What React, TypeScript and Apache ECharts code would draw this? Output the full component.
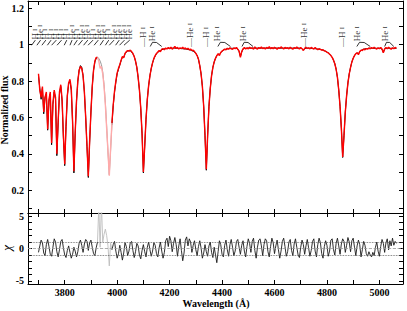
import React, { useEffect, useRef } from "react";
import * as echarts from "echarts";

// ---- data ----
const WL_START = 3700;
const WL_STEP = 5;
const MASK_FROM = 3925;
const MASK_TO = 3980;

// observed normalized flux (red), 3700..5065 Å step 5
const observedFlux = [
  0.84, 0.75, 0.71, 0.77, 0.63, 0.71, 0.74, 0.535, 0.70, 0.74,
  0.46, 0.68, 0.75, 0.71, 0.40, 0.58, 0.74, 0.78, 0.70, 0.50,
  0.343, 0.56, 0.72, 0.79, 0.81, 0.76, 0.58, 0.304, 0.52, 0.69,
  0.80, 0.86, 0.88, 0.87, 0.83, 0.74, 0.60, 0.44, 0.277, 0.47,
  0.63, 0.77, 0.86, 0.91, 0.93, 0.93, 0.91, 0.87, 0.88, 0.84,
  0.77, 0.67, 0.54, 0.41, 0.28, 0.43, 0.57, 0.67, 0.745, 0.80,
  0.845, 0.87, 0.89, 0.915, 0.935, 0.928, 0.952, 0.962, 0.968, 0.964,
  0.97, 0.962, 0.952, 0.935, 0.91, 0.875, 0.82, 0.75, 0.65, 0.51,
  0.30, 0.44, 0.59, 0.70, 0.775, 0.83, 0.87, 0.90, 0.925, 0.94,
  0.952, 0.96, 0.968, 0.962, 0.975, 0.978, 0.972, 0.982, 0.976, 0.984,
  0.978, 0.986, 0.975, 0.982, 0.99, 0.979, 0.985, 0.976, 0.983, 0.979,
  0.986, 0.977, 0.982, 0.975, 0.98, 0.972, 0.976, 0.968, 0.97, 0.962,
  0.952, 0.94, 0.92, 0.885, 0.84, 0.77, 0.66, 0.50, 0.315, 0.50,
  0.66, 0.76, 0.83, 0.875, 0.905, 0.925, 0.94, 0.95, 0.94, 0.957,
  0.965, 0.97, 0.976, 0.972, 0.98, 0.975, 0.983, 0.977, 0.974, 0.982,
  0.978, 0.985, 0.974, 0.965, 0.93, 0.962, 0.978, 0.984, 0.976, 0.982,
  0.977, 0.986, 0.979, 0.983, 0.975, 0.988, 0.98, 0.976, 0.984, 0.979,
  0.987, 0.978, 0.983, 0.976, 0.985, 0.98, 0.989, 0.977, 0.984, 0.978,
  0.986, 0.981, 0.975, 0.984, 0.979, 0.988, 0.982, 0.976, 0.985, 0.98,
  0.983, 0.977, 0.986, 0.98, 0.975, 0.984, 0.979, 0.987, 0.981, 0.976,
  0.984, 0.978, 0.968, 0.98, 0.986, 0.979, 0.983, 0.977, 0.985, 0.98,
  0.976, 0.984, 0.978, 0.972, 0.978, 0.974, 0.97, 0.972, 0.966, 0.964,
  0.958, 0.955, 0.948, 0.94, 0.93, 0.915, 0.895, 0.865, 0.82, 0.75,
  0.66, 0.54, 0.383, 0.50, 0.63, 0.72, 0.79, 0.84, 0.875, 0.905,
  0.925, 0.94, 0.95, 0.956, 0.945, 0.962, 0.97, 0.968, 0.976, 0.972,
  0.979, 0.975, 0.982, 0.977, 0.984, 0.979, 0.986, 0.98, 0.976, 0.983,
  0.978, 0.985, 0.976, 0.955, 0.978, 0.984, 0.977, 0.986, 0.98, 0.975,
  0.983, 0.978, 0.985, 0.98,
];

// model flux (black), same grid
const modelFlux = [
  0.83, 0.76, 0.70, 0.76, 0.62, 0.71, 0.73, 0.53, 0.69, 0.73,
  0.45, 0.67, 0.74, 0.70, 0.39, 0.57, 0.73, 0.77, 0.69, 0.49,
  0.335, 0.55, 0.72, 0.785, 0.80, 0.75, 0.57, 0.295, 0.51, 0.69,
  0.80, 0.86, 0.885, 0.875, 0.83, 0.74, 0.60, 0.44, 0.27, 0.46,
  0.63, 0.77, 0.86, 0.905, 0.925, 0.93, 0.925, 0.91, 0.89, 0.85,
  0.78, 0.68, 0.55, 0.41, 0.285, 0.42, 0.56, 0.665, 0.74, 0.795,
  0.84, 0.865, 0.888, 0.912, 0.932, 0.93, 0.95, 0.96, 0.965, 0.967,
  0.966, 0.96, 0.95, 0.935, 0.91, 0.875, 0.82, 0.75, 0.65, 0.51,
  0.295, 0.44, 0.59, 0.70, 0.775, 0.83, 0.87, 0.90, 0.922, 0.938,
  0.95, 0.958, 0.964, 0.968, 0.972, 0.975, 0.977, 0.978, 0.979, 0.98,
  0.98, 0.981, 0.981, 0.981, 0.981, 0.98, 0.98, 0.979, 0.979, 0.978,
  0.978, 0.977, 0.976, 0.975, 0.974, 0.972, 0.97, 0.967, 0.964, 0.96,
  0.952, 0.94, 0.92, 0.885, 0.84, 0.77, 0.66, 0.50, 0.31, 0.50,
  0.66, 0.76, 0.83, 0.875, 0.905, 0.925, 0.94, 0.948, 0.945, 0.956,
  0.964, 0.969, 0.973, 0.975, 0.977, 0.978, 0.979, 0.98, 0.98, 0.98,
  0.98, 0.98, 0.976, 0.962, 0.935, 0.96, 0.976, 0.98, 0.98, 0.981,
  0.981, 0.981, 0.981, 0.981, 0.981, 0.981, 0.981, 0.981, 0.981, 0.981,
  0.981, 0.981, 0.981, 0.981, 0.981, 0.981, 0.981, 0.981, 0.981, 0.981,
  0.981, 0.981, 0.981, 0.981, 0.981, 0.981, 0.981, 0.981, 0.981, 0.981,
  0.981, 0.981, 0.981, 0.981, 0.981, 0.981, 0.981, 0.981, 0.981, 0.981,
  0.981, 0.978, 0.97, 0.978, 0.981, 0.981, 0.981, 0.98, 0.98, 0.98,
  0.979, 0.978, 0.977, 0.976, 0.975, 0.974, 0.972, 0.97, 0.967, 0.964,
  0.96, 0.955, 0.948, 0.94, 0.93, 0.915, 0.895, 0.865, 0.82, 0.75,
  0.66, 0.54, 0.38, 0.50, 0.63, 0.72, 0.79, 0.84, 0.875, 0.905,
  0.925, 0.94, 0.95, 0.955, 0.948, 0.962, 0.968, 0.972, 0.975, 0.977,
  0.978, 0.979, 0.98, 0.98, 0.98, 0.98, 0.98, 0.98, 0.98, 0.98,
  0.98, 0.98, 0.975, 0.958, 0.975, 0.98, 0.98, 0.98, 0.98, 0.98,
  0.98, 0.98, 0.98, 0.98,
];

// residuals chi, same grid
const chiValues = [
  -0.6, 0.4, 1.3, 0.9, -0.7, -1.1, 0.6, 1.4, 0.3, -0.9,
  -1.2, 0.2, 1.5, 1.0, -0.5, -1.3, -0.2, 1.1, 1.4, 0.1,
  -1.0, -1.4, -0.3, 0.4, -0.6, -1.5, -0.9, 0.2, -0.4, -1.3,
  -0.5, 0.8, 1.3, 0.5, -0.6, 0.7, 1.4, 1.1, -0.3, 0.9,
  1.3, 0.2, -0.8, -1.1, 0.1, 1.0, 6.5, 0.2, 7.0, 1.0,
  2.2, 3.0, 2.0, 0.4, -2.7, 0.8, -0.2, 0.6, 1.1, -0.4,
  -1.5, -0.8, 0.5, -0.6, -1.8, -0.7, 0.9, 0.3, -1.1, -0.4,
  0.9, 1.1, -0.3, -1.4, -0.5, 0.8, 0.4, -1.0, -1.6, -0.3,
  0.6, -0.5, -1.3, 0.2, 1.0, -0.2, -1.2, -0.4, 0.9, 0.5,
  -0.8, -1.3, 0.1, 1.0, -0.4, -1.5, -0.6, 1.2, 1.6, 0.3,
  1.9, 1.2, -0.5, 0.8, 1.7, 0.6, -1.2, 0.4, 1.5, -0.3,
  -1.9, -0.7, 1.3, 1.8, 0.4, 1.5, 1.0, -0.6, 0.5, 1.2,
  -0.2, -1.1, 0.3, 1.2, 0.1, -1.5, -0.7, 0.6, -0.5, -1.2,
  0.4, 1.0, -0.6, -1.4, 0.2, -1.0, -2.2, -0.5, 1.2, 0.6,
  -0.9, -1.3, 0.5, 1.3, -0.2, -1.2, 0.6, 1.4, 0.2, -1.1,
  -0.4, 1.1, 1.4, 0.2, -0.9, 0.5, 1.2, -0.4, -1.3, 0.3,
  1.5, 0.8, -0.6, 1.1, 1.6, -0.3, -1.5, 0.2, 1.3, 1.5,
  0.4, -1.1, 0.6, 1.5, 1.2, -0.5, -1.3, 0.3, 1.6, 0.9,
  -0.8, 0.4, 1.3, -0.2, -1.5, -0.4, 1.1, 1.6, 0.3, -1.2,
  -0.5, 1.0, 1.4, -0.3, -1.1, 0.7, 1.5, 0.2, -1.0, -1.4,
  0.2, 1.3, 0.6, -0.9, 0.4, 1.4, 0.1, -1.2, -0.3, 1.1,
  1.5, -0.4, -1.3, 0.6, 1.6, 0.9, -0.8, -1.5, 0.3, 1.2,
  0.5, -1.2, -0.4, 1.3, 1.5, -0.2, -1.0, 0.8, 1.6, 0.4,
  -0.9, 0.7, 1.5, 1.1, -0.6, 0.5, 1.7, 1.0, -0.5, 1.2,
  1.6, 0.2, -1.1, 0.4, 1.3, 0.6, -1.3, -0.2, 1.1, 0.5,
  -0.8, -1.2, -0.5, -1.0, -1.3, -0.6, -1.1, 0.2, 1.0, -0.4,
  -1.2, 0.3, 1.4, 0.8, -0.6, 0.9, 1.5, -0.2, 1.2, 0.4,
  1.6, 0.5, 1.1, 0.8,
];

// axis ticks / labels
const X_MIN = 3660;
const X_MAX = 5090;
const xTickValues = [3700, 3800, 3900, 4000, 4100, 4200, 4300, 4400, 4500, 4600, 4700, 4800, 4900, 5000];
const xTickLabels = [3800, 4000, 4200, 4400, 4600, 4800, 5000];
const fluxTickValues = [0.1, 0.2, 0.3, 0.4, 0.5, 0.6, 0.7, 0.8, 0.9, 1, 1.1, 1.2];
const fluxTickLabels = [0.2, 0.4, 0.6, 0.8, 1, 1.2];
const chiTickValues = [-5, -4, -3, -2, -1, 0, 1, 2, 3, 4, 5];
const chiTickLabels = [-5, 0, 5];

// axis titles
const X_TITLE = "Wavelength (Å)";
const FLUX_TITLE = "Normalized flux";
const CHI_TITLE = "χ";

// line identifications
const dashLabels = [
  { ion: "H", wl: 4102 },
  { ion: "He", wl: 4281 },
  { ion: "H", wl: 4340 },
  { ion: "He", wl: 4713 },
  { ion: "H", wl: 4861 },
];
const bracketLabels = [
  { ion: "He", at: 4134, from: 4126, to: 4170 },
  { ion: "He", at: 4384, from: 4384, to: 4432 },
  { ion: "He", at: 4480, from: 4476, to: 4518 },
  { ion: "He", at: 4917, from: 4914, to: 4965 },
  { ion: "He", at: 5023, from: 5020, to: 5055 },
];
const clusterLabels = [
  { ion: "H", at: 3688, wl: 3674 },
  { ion: "He", at: 3708, wl: 3694 },
  { ion: "H", at: 3728, wl: 3713 },
  { ion: "H", at: 3748, wl: 3734 },
  { ion: "H", at: 3768, wl: 3750 },
  { ion: "H", at: 3788, wl: 3771 },
  { ion: "H", at: 3808, wl: 3798 },
  { ion: "He", at: 3828, wl: 3820 },
  { ion: "H", at: 3848, wl: 3835 },
  { ion: "He", at: 3868, wl: 3852 },
  { ion: "He", at: 3888, wl: 3872 },
  { ion: "H", at: 3908, wl: 3889 },
  { ion: "He", at: 3928, wl: 3912 },
  { ion: "He", at: 3948, wl: 3935 },
  { ion: "H", at: 3968, wl: 3955 },
  { ion: "He", at: 3988, wl: 3970 },
  { ion: "He", at: 4008, wl: 3994 },
  { ion: "He", at: 4028, wl: 4009 },
  { ion: "He", at: 4048, wl: 4026 },
];

// ---- helpers ----
const FONT = "'Liberation Serif', 'Times New Roman', serif";

function toPairs(values: number[]) {
  return values.map((v, i) => [WL_START + i * WL_STEP, v]);
}
function split(values: number[]) {
  const pairs = toPairs(values);
  return {
    a: pairs.filter((p) => p[0] <= MASK_FROM),
    m: pairs.filter((p) => p[0] >= MASK_FROM && p[0] <= MASK_TO),
    b: pairs.filter((p) => p[0] >= MASK_TO),
  };
}

const plain = (v: number) => String(v);

function xAxis(gridIndex: number, position: "top" | "bottom", labels: boolean) {
  return {
    type: "value",
    gridIndex,
    position,
    min: X_MIN,
    max: X_MAX,
    axisLine: { show: true, onZero: false, lineStyle: { color: "#000", width: 1 } },
    axisTick: { show: true, inside: true, length: 4, customValues: xTickValues, lineStyle: { color: "#000" } },
    axisLabel: {
      show: labels,
      customValues: xTickLabels,
      formatter: plain,
      fontFamily: FONT,
      fontWeight: "bold",
      fontSize: 10,
      color: "#000",
      margin: 3,
    },
    splitLine: { show: false },
  };
}

function yAxis(
  gridIndex: number,
  position: "left" | "right",
  min: number,
  max: number,
  ticks: number[],
  labels: number[] | null
) {
  return {
    type: "value",
    gridIndex,
    position,
    min,
    max,
    axisLine: { show: true, onZero: false, lineStyle: { color: "#000", width: 1 } },
    axisTick: { show: true, inside: true, length: 4, customValues: ticks, lineStyle: { color: "#000" } },
    axisLabel: {
      show: !!labels,
      customValues: labels || [],
      formatter: plain,
      fontFamily: FONT,
      fontWeight: "bold",
      fontSize: 10,
      color: "#000",
      margin: 4,
    },
    splitLine: { show: false },
  };
}

function lineSeries(data: number[][], color: string, width: number, xi: number, yi: number, z: number, extra?: any) {
  return {
    type: "line",
    data,
    xAxisIndex: xi,
    yAxisIndex: yi,
    symbol: "none",
    showSymbol: false,
    silent: true,
    z,
    lineStyle: { color, width },
    ...(extra || {}),
  };
}

function labelText(ion: string, dash: boolean) {
  return (dash ? "{d|—}" : "") + "{t|" + ion + " }{s|I}";
}

function buildOption() {
  const obs = split(observedFlux);
  const mod = split(modelFlux);
  const chi = split(chiValues);

  const labelData: any[] = [];
  dashLabels.forEach((l) => labelData.push({ value: [l.wl, 0.985], name: labelText(l.ion, true) }));
  bracketLabels.forEach((l) => labelData.push({ value: [l.at, 1.016], name: labelText(l.ion, false) }));
  clusterLabels.forEach((l) => labelData.push({ value: [l.at, 1.025], name: labelText(l.ion, false) }));

  const connectorData: any[] = [];
  clusterLabels.forEach((l) => connectorData.push({ coords: [[l.at, 1.025], [l.wl, 0.997]] }));
  bracketLabels.forEach((b) =>
    connectorData.push({
      coords: [
        [b.from, 0.99],
        [b.from + (b.to - b.from) * 0.2, 1.013],
        [b.from + (b.to - b.from) * 0.55, 1.012],
        [b.to, 0.99],
      ],
    })
  );

  return {
    animation: false,
    backgroundColor: "#fff",
    textStyle: { fontFamily: FONT },
    grid: [
      { left: 28, right: 4, top: 1, height: 212, outerBoundsMode: "none", containLabel: false },
      { left: 28, right: 4, top: 213, height: 71, outerBoundsMode: "none", containLabel: false },
    ],
    graphic: [
      {
        type: "text",
        x: 4.5,
        y: 110,
        rotation: Math.PI / 2,
        silent: true,
        style: {
          text: FLUX_TITLE,
          fontFamily: FONT,
          fontWeight: "bold",
          fontSize: 10,
          fill: "#000",
          align: "center",
          verticalAlign: "middle",
        },
      },
      {
        type: "text",
        x: 6,
        y: 248,
        rotation: Math.PI / 2,
        silent: true,
        style: {
          text: CHI_TITLE,
          fontFamily: FONT,
          fontStyle: "italic",
          fontSize: 13,
          fill: "#000",
          align: "center",
          verticalAlign: "middle",
        },
      },
      {
        type: "text",
        x: 216,
        y: 303,
        silent: true,
        style: {
          text: X_TITLE,
          fontFamily: FONT,
          fontWeight: "bold",
          fontSize: 10,
          fill: "#000",
          align: "center",
          verticalAlign: "middle",
        },
      },
    ],
    xAxis: [
      xAxis(0, "bottom", false),
      xAxis(0, "top", false),
      xAxis(1, "bottom", true),
      xAxis(1, "top", false),
    ],
    yAxis: [
      yAxis(0, "left", 0.075, 1.24, fluxTickValues, fluxTickLabels),
      yAxis(0, "right", 0.075, 1.24, fluxTickValues, null),
      yAxis(1, "left", -5.5, 5.5, chiTickValues, chiTickLabels),
      yAxis(1, "right", -5.5, 5.5, chiTickValues, null),
    ],
    series: [
      lineSeries(mod.a, "#000", 1, 0, 0, 2),
      lineSeries(mod.m, "#9a9a9a", 1, 0, 0, 2),
      lineSeries(mod.b, "#000", 1, 0, 0, 2),
      lineSeries(obs.a, "#ff0000", 1.4, 0, 0, 3),
      lineSeries(obs.m, "#ffaaaa", 1.4, 0, 0, 3),
      lineSeries(obs.b, "#ff0000", 1.4, 0, 0, 3),
      {
        type: "lines",
        coordinateSystem: "cartesian2d",
        xAxisIndex: 0,
        yAxisIndex: 0,
        polyline: true,
        silent: true,
        z: 4,
        lineStyle: { color: "#000", width: 0.8, opacity: 1 },
        data: connectorData,
      },
      {
        type: "scatter",
        xAxisIndex: 0,
        yAxisIndex: 0,
        silent: true,
        symbolSize: 1,
        z: 5,
        itemStyle: { color: "transparent" },
        label: {
          show: true,
          position: [0, 0],
          rotate: 90,
          align: "left",
          verticalAlign: "middle",
          formatter: (p: any) => p.name,
          color: "#000",
          fontFamily: FONT,
          fontSize: 9,
          rich: {
            d: { fontFamily: FONT, fontSize: 9, color: "#000" },
            t: { fontFamily: FONT, fontSize: 9, color: "#000" },
            s: { fontFamily: FONT, fontSize: 7, color: "#000" },
          },
        },
        data: labelData,
      },
      lineSeries(chi.a, "#1a1a1a", 0.9, 2, 2, 3, {
        markLine: {
          silent: true,
          symbol: ["none", "none"],
          label: { show: false },
          data: [
            { yAxis: 1, lineStyle: { color: "#555", type: "dotted", width: 0.8 } },
            { yAxis: -1, lineStyle: { color: "#555", type: "dotted", width: 0.8 } },
            { yAxis: 0, lineStyle: { color: "#999", type: "dashed", width: 0.8 } },
          ],
        },
      }),
      lineSeries(chi.m, "#bdbdbd", 0.9, 2, 2, 3),
      lineSeries(chi.b, "#1a1a1a", 0.9, 2, 2, 3),
    ],
  };
}

export default function App() {
  const ref = useRef<HTMLDivElement>(null);
  useEffect(() => {
    if (!ref.current) return;
    const chart = echarts.init(ref.current, null, { renderer: "svg" });
    chart.setOption(buildOption() as any);
    return () => chart.dispose();
  }, []);
  return (
    <div
      ref={ref}
      style={{ position: "fixed", left: 0, top: 0, width: 407, height: 311, background: "#fff" }}
    />
  );
}
